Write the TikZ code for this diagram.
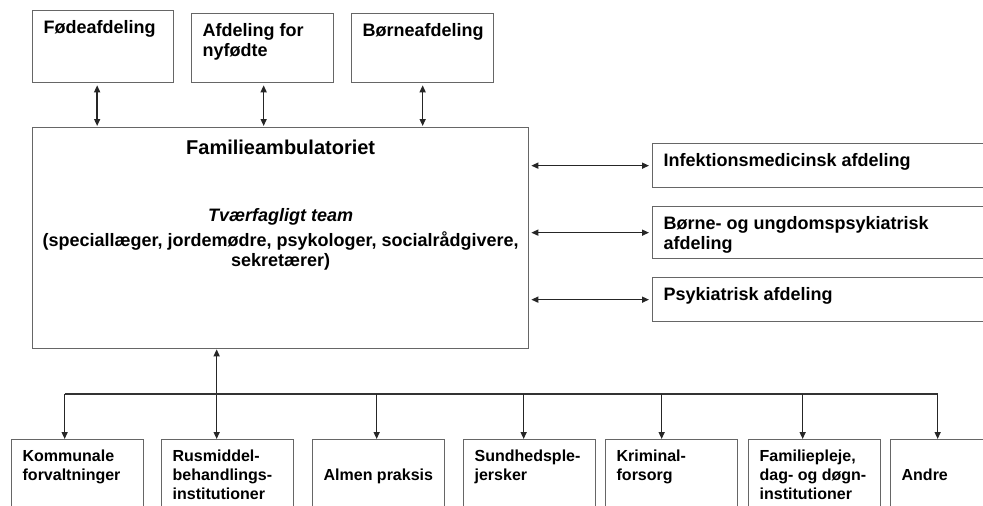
\documentclass[tikz,border=0pt]{standalone}
\usepackage{fontspec}
\setmainfont{Liberation Sans}
\usetikzlibrary{arrows.meta,calc}
\newcommand{\felt}[3]{\parbox[c][\dimexpr#2pt-18pt\relax][t]{\dimexpr#1pt-22pt\relax}{\raggedright\hyphenpenalty=10000\strut#3}}
\tikzset{
  boks/.style = {draw=black!60, line width=1.3pt, rectangle, anchor=north west, inner xsep=11pt, inner ysep=9pt, font=\fontsize{18}{20}\selectfont\bfseries},
  boks_bund/.style = {boks, font=\fontsize{16}{19}\selectfont\bfseries},
  hoved/.style = {boks, inner sep=0pt},
  pil/.style = {-{Triangle[length=7pt,width=6pt]}, line width=1.4pt, black!85},
  dobbeltpil/.style = {{Triangle[length=7pt,width=6pt]}-{Triangle[length=7pt,width=6pt]}, line width=1.4pt, black!85}
}
\begin{document}
\begin{tikzpicture}[x=1pt, y=-1pt]
	\useasboundingbox (0,0) rectangle (983,506);
	\node [boks] (fode) at (32,10) {\felt{141}{72}{Fødeafdeling}};
	\node [boks] (nyfodte) at (191,13) {\felt{142}{69}{Afdeling for\\nyfødte}};
	\node [boks] (borne) at (351,13) {\felt{142}{69}{Børneafdeling}};
	\node [hoved] (famamb) at (32,127) {\parbox[c][221pt][t]{496pt}{\centering\vspace*{12.5pt}%
		{\fontsize{20}{24}\selectfont Familieambulatoriet\par}\vspace{47pt}%
		{\itshape Tværfagligt team\par}\vspace{5pt}%
		(speciallæger, jordemødre, psykologer, socialrådgivere,\\sekretærer)}};
	\node [boks] (infek) at (652,143) {\felt{348}{44}{Infektionsmedicinsk afdeling}};
	\node [boks] (bupsyk) at (652,206) {\felt{348}{52}{Børne- og ungdomspsykiatrisk\\afdeling}};
	\node [boks] (psyk) at (652,277) {\felt{348}{44}{Psykiatrisk afdeling}};
	\node [boks_bund] (kommune) at (11,439) {\felt{132}{75}{Kommunale\\forvaltninger}};
	\node [boks_bund] (rus) at (161,439) {\felt{132}{75}{Rusmiddel-\\behandlings-\\institutioner}};
	\node [boks_bund] (almen) at (312,439) {\felt{132}{75}{\\Almen praksis}};
	\node [boks_bund] (sundhed) at (463,439) {\felt{132}{75}{Sundhedsple-\\jersker}};
	\node [boks_bund] (kriminal) at (605,439) {\felt{132}{75}{Kriminal-\\forsorg}};
	\node [boks_bund] (familie) at (748,439) {\felt{132}{75}{Familiepleje,\\dag- og døgn-\\institutioner}};
	\node [boks_bund] (andre) at (890,439) {\felt{132}{75}{\\Andre}};
	\coordinate (bus) at (0,394);

	\draw [dobbeltpil, shorten <=2pt, shorten >=1pt] ([xshift=-6pt]fode.south) -- ([xshift=-6pt]fode.south |- famamb.north);
	\draw [dobbeltpil, shorten <=2pt, shorten >=1pt] ([xshift=1pt]nyfodte.south) -- ([xshift=1pt]nyfodte.south |- famamb.north);
	\draw [dobbeltpil, shorten <=2pt, shorten >=1pt] (borne.south) -- (borne.south |- famamb.north);
	\foreach \b in {infek, bupsyk, psyk}
		\draw [dobbeltpil, shorten <=2pt, shorten >=3pt] (\b.west -| famamb.east) -- (\b.west);
	\draw [dobbeltpil] ([xshift=-11pt]rus.north |- famamb.south) -- ([xshift=-11pt]rus.north);
	\draw [line width=1.4pt, black!80] ([xshift=-13pt]kommune.north |- bus) -- ([xshift=-19pt]andre.north |- bus);
	\foreach \b/\dx in {kommune/-13, almen/-2, sundhed/-6, kriminal/-10, familie/-12, andre/-19}
		\draw [pil] ([xshift=\dx pt]\b.north |- bus) -- ([xshift=\dx pt]\b.north);
\end{tikzpicture}
\end{document}
